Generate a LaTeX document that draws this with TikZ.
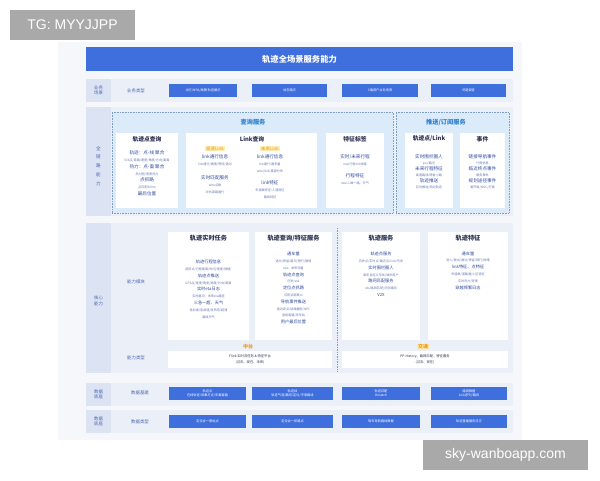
\documentclass[tikz,border=0pt]{standalone}
\usepackage{fontspec}
\setmainfont{Noto Sans CJK SC}
\newfontfamily\wmfont{Liberation Sans}
\usetikzlibrary{fit}
\definecolor{mblue}{HTML}{3F6FDD}
\definecolor{panel}{HTML}{F5F7FB}
\definecolor{rowc}{HTML}{EBEFF7}
\definecolor{labc}{HTML}{DCE4F4}
\definecolor{lbltx}{HTML}{4A66B0}
\definecolor{qfill}{HTML}{DCEBFA}
\definecolor{qdot}{HTML}{7F9FC0}
\definecolor{qtitle}{HTML}{2C80D0}
\definecolor{titc}{HTML}{2A3150}
\definecolor{itc}{HTML}{2F4A9E}
\definecolor{tnc}{HTML}{6679B0}
\definecolor{orng}{HTML}{EE9A1A}
\definecolor{ylw}{HTML}{FDEDB5}
\definecolor{wmg}{HTML}{A9A9A9}
\newcommand\tn[1]{{\fontsize{3.1}{6.8}\selectfont\color{tnc}#1}}
\begin{document}
\begin{tikzpicture}[x=1pt,y=-1pt,
  area/.style={draw=none,inner sep=0},
  rowbg/.style={area,fill=rowc},
  labcol/.style={area,fill=labc},
  bbox/.style={area,fill=mblue},
  wbox/.style={area,fill=white},
  dotbox/.style={area,fill=qfill,draw=qdot,densely dotted,line width=0.6pt},
  btxt/.style={text=white,inner sep=0,align=center,font=\fontsize{3.2}{4.2}\selectfont},
  lbl/.style={text=lbltx,inner sep=0,align=center,font=\fontsize{4.4}{5.6}\selectfont},
  ttl/.style={text=titc,inner sep=0,font=\fontsize{5.8}{7}\selectfont\bfseries},
  cttl/.style={text=titc,inner sep=0,font=\fontsize{6.2}{7}\selectfont\bfseries},
  qttl/.style={text=qtitle,inner sep=0,font=\fontsize{6.2}{7}\selectfont\bfseries},
  body/.style={text=itc,align=center,anchor=north,inner sep=0,font=\fontsize{4.6}{6.8}\selectfont},
  cbody/.style={text=itc,align=center,anchor=north,inner sep=0,font=\fontsize{4.2}{6.8}\selectfont},
  hl/.style={fill=ylw,text=orng,inner sep=0.8pt,font=\fontsize{4.4}{5}\selectfont},
  strip/.style={text=titc,align=center,inner sep=0,font=\fontsize{3.3}{6}\selectfont},
  wm/.style={fill=wmg,text=white,inner sep=0,font=\wmfont\fontsize{14}{16}\selectfont}
]
\useasboundingbox (0,0) rectangle (600,480);
\fill[white] (0,0) rectangle (600,480);
\node[area,fill=panel,fit={(58,42) (522,440)}] (panel) {};

% title bar
\node[bbox,fit={(86,47) (513,71)}] (tbar) {};
\node[text=white,inner sep=0,font=\fontsize{8.3}{9}\selectfont\bfseries] (ttext) at (tbar.center) {轨迹全场景服务能力};

% business row
\node[rowbg,fit={(86,79) (513,102)}] (r1) {};
\node[labcol,fit={(86,79) (111,102)}] (r1l) {};
\node[lbl] (r1lt) at (r1l.center) {业务\\场景};
\node[lbl] (r1t) at (136,90.5) {业务类型};
\node[bbox,fit={(169,84) (237,97)}] (u1) {};
\node[btxt] (u1t) at (u1.center) {出行/NPA/高精 轨迹展示};
\node[bbox,fit={(252,84) (327,97)}] (u2) {};
\node[btxt] (u2t) at (u2.center) {动态路况};
\node[bbox,fit={(342,84) (418,97)}] (u3) {};
\node[btxt] (u3t) at (u3.center) {C端用户业务场景};
\node[bbox,fit={(431,84) (506,97)}] (u4) {};
\node[btxt] (u4t) at (u4.center) {问题调查};

% full-link row
\node[rowbg,fit={(86,107) (513,216)}] (r2) {};
\node[labcol,fit={(86,107) (111,216)}] (r2l) {};
\node[lbl,font=\fontsize{4.6}{8.8}\selectfont] (r2lt) at (98.5,166) {全\\链\\路\\能\\力};

\node[dotbox,fit={(112,112) (393,213)}] (qarea) {};
\node[qttl] (qt) at (253,122) {查询服务};
\node[dotbox,fit={(396,112) (509,213)}] (parea) {};
\node[qttl] (pt) at (446,122) {推送/订阅服务};

% 轨迹点查询
\node[wbox,fit={(116,133) (178,208)}] (qa) {};
\node[ttl] (qat) at (147,139) {轨迹点查询};
\node[body] (qab) at (147,150.7) {轨迹：点-线 聚合\\\tn{GIS点/道路/速度/角度/方向/距离}\\热力：点-面 聚合\\\tn{热力图/密度热力}\\点抓路\\\tn{点匹配500m}\\最后位置};

% Link查询
\node[wbox,fit={(186,133) (317,208)}] (qb) {};
\node[ttl] (qbt) at (252,139) {Link查询};
\node[hl] (qbh1) at (215,148.5) {高速Link};
\node[body] (qbb1) at (215,154.7) {link通行信息\\\tn{link通行/拥堵/等待/通过}};
\node[body] (qbb2) at (215,175.7) {实时匹配服务\\\tn{who点数}\\\tn{对抗道路通行}};
\node[hl] (qbh2) at (270,148.5) {未来Link};
\node[body] (qbb3) at (270,154.7) {link通行信息\\\tn{hw通行/通车量}\\\tn{who/V2X/客源分布}};
\node[body] (qbb4) at (270,180.7) {link特征\\\tn{车道数特征/人道特征}\\\tn{路线特征}};

% 特征标签
\node[wbox,fit={(326,133) (384,208)}] (qc) {};
\node[ttl] (qct) at (355,139) {特征标签};
\node[body] (qcb1) at (355,154.7) {实时/未来行程\\\tn{navi行驶100米路}};
\node[body] (qcb2) at (355,173.7) {行程特征\\\tn{navi二维一路、天气}};

% push boxes
\node[wbox,fit={(405,133) (453,208)}] (pa) {};
\node[ttl] (pat) at (429,139) {轨迹点/Link};
\node[body,font=\fontsize{4.6}{6}\selectfont] (pab) at (429,154.7) {实时围栏圈人\\\tn{poi/路况}\\未来行程特征\\\tn{高速路线/跨省小路}\\轨迹推送\\\tn{实时推送/周边轨迹}};
\node[wbox,fit={(460,133) (505,208)}] (pb) {};
\node[ttl] (pbt) at (482.5,139) {事件};
\node[body,font=\fontsize{4.6}{6}\selectfont] (pbb) at (482.5,154.7) {链接导航事件\\\tn{行程信息}\\临近终点事件\\\tn{服务事件}\\规划途径事件\\\tn{避开高/NOC/打通}};

% core row
\node[rowbg,fit={(86,223) (513,373)}] (r3) {};
\node[labcol,fit={(86,223) (111,373)}] (r3l) {};
\node[lbl] (r3lt) at (98.5,301) {核心\\能力};
\node[lbl] (r3t1) at (136,282) {能力模块};
\node[lbl] (r3t2) at (136,358) {能力类型};

\node[wbox,fit={(168,232) (249,340)}] (ca) {};
\node[cttl] (cat) at (208.5,238) {轨迹实时任务};
\node[cbody] (cab) at (208.5,259.9) {轨迹行程信息\\\tn{起终点/行程距离/时间/速度/拥堵/}\\轨迹点推送\\\tn{GPS点/速度/角度/高度/方向/距离}\\实时eta日志\\\tn{实时路况、未来eta路径}\\三急一超、天气\\\tn{急加速/急减速/急转弯/超速}\\\tn{路线天气}};

\node[wbox,fit={(255,232) (332,340)}] (cb) {};
\node[cttl] (cbt) at (293.5,238) {轨迹查询/特征服务};
\node[cbody] (cbb) at (293.5,251.9) {通车量\\\tn{进出/停留/路况/限行/拥堵}\\\tn{eta、未来流量}\\轨迹点查询\\\tn{历史/eta}\\定位点抓路\\\tn{匹配点距离m}\\导航事件推送\\\tn{临近终点/绕路偏航/NPC}\\\tn{途经道路/洗车站}\\用户最后位置};

\draw[qdot,densely dotted,line width=0.7pt] (337,228) coordinate (sepA) -- (337,372) coordinate (sepB);

\node[wbox,fit={(342,232) (420,340)}] (cc) {};
\node[cttl] (cct) at (381,238) {轨迹服务};
\node[cbody] (ccb) at (381,251.9) {轨迹点服务\\\tn{历史点/实时点/最近点/link/历史}\\实时围栏圈人\\\tn{每年自定义形状/城市用户}\\路网匹配服务\\\tn{ids/路网匹配/识别路网}\\V2X};

\node[wbox,fit={(428,232) (508,340)}] (cd) {};
\node[cttl] (cdt) at (468,238) {轨迹特征};
\node[cbody] (cdb) at (468,251.4) {通车量\\\tn{进入/驶出/通过/停留/限行/拥堵}\\link特征、点特征\\\tn{车道数/道路通/小区特征}\\\tn{实时热力/密度}\\穿越频繁日志\\\tn{-}};

\node[hl,fill=none,font=\fontsize{5}{6}\selectfont\bfseries] (zt) at (248,347) {中台};
\node[wbox,fit={(168,351) (332,368)}] (zs) {};
\node[strip] (zst) at (zs.center) {Flink 实时流任务 \& 特征平台\\(过去、现在、未来)};
\node[hl,font=\fontsize{5}{6}\selectfont\bfseries] (jt) at (423,347) {交通};
\node[wbox,fit={(342,351) (508,368)}] (js) {};
\node[strip] (jst) at (js.center) {PP-History、路网匹配、特征服务\\(过去、现在)};

% data row 1
\node[rowbg,fit={(86,383) (513,406)}] (r4) {};
\node[labcol,fit={(86,383) (111,406)}] (r4l) {};
\node[lbl] (r4lt) at (r4l.center) {数据\\底座};
\node[lbl] (r4t) at (140,393) {数据基建};
\node[bbox,fit={(169,387) (246,400)}] (d1) {};
\node[btxt] (d1t) at (d1.center) {轨迹点\\在线轨迹/采集打点/车载链路};
\node[bbox,fit={(252,387) (333,400)}] (d2) {};
\node[btxt] (d2t) at (d2.center) {轨迹线\\轨迹气泡/路网/定位/平滑路线};
\node[bbox,fit={(342,387) (420,400)}] (d3) {};
\node[btxt] (d3t) at (d3.center) {轨迹匹配\\Dmatch};
\node[bbox,fit={(431,387) (507,400)}] (d4) {};
\node[btxt] (d4t) at (d4.center) {路网数据\\Link序列/路段};

% data row 2
\node[rowbg,fit={(86,410) (513,433)}] (r5) {};
\node[labcol,fit={(86,410) (111,433)}] (r5l) {};
\node[lbl] (r5lt) at (r5l.center) {数据\\底座};
\node[lbl] (r5t) at (140,421.5) {数据类型};
\node[bbox,fit={(169,415) (246,428)}] (e1) {};
\node[btxt] (e1t) at (e1.center) {定位合一原始点};
\node[bbox,fit={(252,415) (333,428)}] (e2) {};
\node[btxt] (e2t) at (e2.center) {定位合一抓路点};
\node[bbox,fit={(342,415) (420,428)}] (e3) {};
\node[btxt] (e3t) at (e3.center) {驾车导航路线数据};
\node[bbox,fit={(431,415) (507,428)}] (e4) {};
\node[btxt] (e4t) at (e4.center) {轨迹基建服务日志};

% watermarks
\node[wm,fit={(10,10) (135,40)}] (wm1) {};
\node[text=white,inner sep=0,font=\wmfont\fontsize{14}{16}\selectfont] (wm1t) at (wm1.center) {TG: MYYJJPP};
\node[wm,fit={(423,440) (588,470)}] (wm2) {};
\node[text=white,inner sep=0,font=\wmfont\fontsize{14}{16}\selectfont] (wm2t) at (wm2.center) {sky-wanboapp.com};
\end{tikzpicture}
\end{document}
